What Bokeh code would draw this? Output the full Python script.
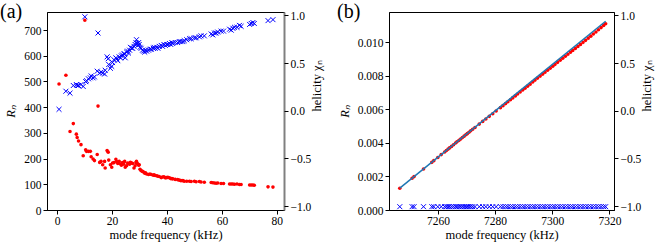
import math
from bokeh.plotting import figure
from bokeh.models import (Range1d, LinearAxis, FixedTicker, CustomJSTickFormatter,
                          ColumnDataSource, Div)
from bokeh.layouts import row
from bokeh.embed import file_html
from bokeh.resources import INLINE

# ---------------- panel (a) data ----------------
freq_a = [0.5, 3.0, 4.5, 5.7, 6.8, 7.1, 7.6, 8.5, 9.3, 9.9, 10.2, 10.5, 11.2, 11.9, 12.2,
          12.9, 13.4, 14.4, 14.7, 15.3, 15.8, 16.4, 17.1, 17.3, 18.0, 18.4, 18.6, 19.2,
          19.7, 20.0, 20.5, 21.2, 21.5, 21.9, 22.4, 22.9, 23.2, 23.6, 24.1, 24.4, 24.6,
          25.1, 25.5, 25.8, 26.2, 26.5, 27.0, 27.3, 27.8, 28.2, 28.5, 28.7, 29.0, 29.2,
          29.5, 29.7, 30.0, 30.4, 30.9, 31.3, 31.7, 32.0, 32.4, 33.1, 33.6, 34.1, 34.8,
          35.1, 35.5, 36.1, 36.5, 37.0, 37.7, 38.2, 38.7, 39.2, 39.7, 40.1, 40.7, 41.2,
          41.6, 41.9, 42.8, 43.7, 44.3, 44.9, 45.6, 46.1, 47.0, 48.0, 48.6, 49.8, 50.4,
          51.6, 52.2, 53.4, 55.9, 56.5, 57.1, 57.7, 58.3, 59.5, 60.4, 62.6, 63.2, 63.8,
          64.4, 65.3, 66.2, 66.8, 69.9, 70.5, 71.1, 71.6, 76.6, 78.4]
R_a = [492, 526, 307, 338, 297, 284, 270, 256, 213, 740, 236, 230, 230, 230, 209,
       200, 194, 218, 406, 187, 191, 178, 191, 165, 233, 227, 196, 178,
       168, 185, 186, 199, 190, 183, 191, 181, 176, 186, 180, 191, 168,
       174, 185, 183, 180, 187, 185, 183, 165, 174, 186, 191, 183, 181,
       176, 178, 160, 155, 152, 150, 145, 147, 142, 140, 142, 140, 137,
       139, 136, 135, 133, 132, 128, 130, 131, 127, 128, 129, 127, 124,
       124, 123, 121, 120, 118, 116, 116, 114, 114, 114, 113, 114, 112,
       113, 111, 110, 109, 108, 107, 106, 107, 105, 105, 103, 103, 103,
       102, 103, 101, 101, 99, 99, 99, 98, 92, 91]
chi_a = [0.02, 0.21, 0.19, 0.27, 0.28, 0.27, 0.27, 0.28, 0.26, 0.99, 0.31, 0.32, 0.34, 0.35, 0.37,
         0.35, 0.36, 0.42, 0.82, 0.40, 0.41, 0.40, 0.39, 0.43, 0.57, 0.55, 0.49, 0.45,
         0.47, 0.51, 0.54, 0.56, 0.55, 0.53, 0.57, 0.56, 0.58, 0.59, 0.60, 0.60, 0.56,
         0.62, 0.63, 0.61, 0.64, 0.67, 0.66, 0.66, 0.68, 0.70, 0.72, 0.75, 0.71, 0.69,
         0.72, 0.70, 0.67, 0.66, 0.64, 0.63, 0.62, 0.64, 0.63, 0.64, 0.65, 0.65, 0.66,
         0.67, 0.66, 0.67, 0.66, 0.68, 0.69, 0.68, 0.70, 0.69, 0.70, 0.70, 0.71, 0.70,
         0.72, 0.71, 0.72, 0.72, 0.73, 0.73, 0.73, 0.74, 0.75, 0.76, 0.76, 0.77, 0.77,
         0.78, 0.79, 0.79, 0.81, 0.80, 0.82, 0.82, 0.83, 0.84, 0.84, 0.86, 0.85, 0.87,
         0.88, 0.88, 0.90, 0.89, 0.91, 0.92, 0.93, 0.92, 0.95, 0.96]

# ---------------- panel (b) data ----------------
freq_b = [7246.5, 7250.8, 7251.5, 7254.8, 7257.7, 7258.4, 7259.8, 7261.0, 7262.2, 7262.8,
          7263.4, 7263.9, 7264.6, 7265.3, 7266.0, 7266.5, 7267.2, 7267.8, 7268.4, 7269.0,
          7269.6, 7270.1, 7270.7, 7271.3, 7272.0, 7272.8, 7274.3, 7275.5, 7276.6, 7277.8,
          7279.0, 7280.2, 7281.7, 7282.6, 7283.5, 7284.3, 7285.2, 7286.0, 7286.9, 7287.7,
          7288.6, 7289.5, 7290.3, 7291.2, 7292.1, 7293.0, 7293.8, 7294.7, 7295.6, 7296.5,
          7297.3, 7298.2, 7299.1, 7300.0, 7300.8, 7301.7, 7302.6, 7303.5, 7304.4, 7305.3,
          7306.2, 7307.0, 7307.9, 7308.8, 7309.7, 7310.6, 7311.5, 7312.4, 7313.3, 7314.2,
          7315.1, 7316.0, 7316.9, 7317.8, 7318.5]
R_b = [0.00133, 0.00192, 0.00202, 0.00247, 0.00287, 0.00297, 0.00316, 0.00333, 0.00349, 0.00358,
       0.00366, 0.00373, 0.00382, 0.00392, 0.00402, 0.00409, 0.00418, 0.00426, 0.00435, 0.00443,
       0.00451, 0.00458, 0.00466, 0.00475, 0.00484, 0.00495, 0.00515, 0.00531, 0.00545, 0.00561,
       0.00577, 0.00593, 0.00613, 0.00625, 0.00637, 0.00648, 0.00660, 0.00671, 0.00683, 0.00694,
       0.00706, 0.00718, 0.00729, 0.00741, 0.00753, 0.00766, 0.00777, 0.00789, 0.00801, 0.00813,
       0.00824, 0.00836, 0.00848, 0.00860, 0.00871, 0.00883, 0.00895, 0.00907, 0.00919, 0.00931,
       0.00943, 0.00954, 0.00966, 0.00978, 0.00990, 0.01002, 0.01014, 0.01027, 0.01039, 0.01052,
       0.01064, 0.01077, 0.01090, 0.01103, 0.01113]
chi_b = [-1.0] * len(freq_b)
fit_f = [7246.5, 7318.5]
fit_R = [0.00133, 0.01128]

# ---------------- ticks ----------------
xticks_a = [0, 20, 40, 60, 80]
yticks_a = [0, 100, 200, 300, 400, 500, 600, 700]
xticks_b = [7260, 7280, 7300, 7320]
yticks_b = [0.0, 0.002, 0.004, 0.006, 0.008, 0.010]
chi_ticks = [-1.0, -0.5, 0.0, 0.5, 1.0]

SERIF = "Liberation Serif"
TICK_FS = "11.5px"
LABEL_FS = "12.5px"
RED = "#ff0000"
BLUE = "#0000ff"
H = 249


def fmt(decimals):
    return CustomJSTickFormatter(
        code="return tick.toFixed(%d).replace('-', '\\u2212');" % decimals)


def style_axis(ax, ticks, decimals, label):
    ax.ticker = FixedTicker(ticks=ticks)
    ax.formatter = fmt(decimals)
    ax.minor_tick_line_color = None
    ax.major_tick_in = 0
    ax.major_tick_out = 4
    ax.major_tick_line_color = "black"
    ax.major_tick_line_width = 1
    ax.axis_line_color = "black"
    ax.axis_line_width = 1
    ax.major_label_text_font = SERIF
    ax.major_label_text_font_size = TICK_FS
    ax.major_label_text_color = "black"
    ax.major_label_standoff = 2
    ax.axis_label = label
    ax.axis_label_text_font = SERIF
    ax.axis_label_text_font_size = LABEL_FS
    ax.axis_label_text_font_style = "normal"
    ax.axis_label_text_color = "black"
    ax.axis_label_standoff = 3


def make_fig(width, xr, yr, chir, left, right):
    p = figure(width=width, height=H, x_range=xr, y_range=yr,
               output_backend="svg", toolbar_location=None, title=None,
               min_border_left=left, min_border_right=right,
               min_border_top=12, min_border_bottom=39)
    p.xgrid.visible = False
    p.ygrid.visible = False
    p.outline_line_color = "black"
    p.outline_line_width = 1
    p.outline_line_alpha = 1
    p.background_fill_color = "white"
    p.border_fill_color = "white"
    p.extra_y_ranges = {"chi": chir}
    rax = LinearAxis(y_range_name="chi")
    p.add_layout(rax, "right")
    return p, rax


# ---------------- panel (a) ----------------
p1, rax1 = make_fig(334, Range1d(-3.7, 82.6), Range1d(0, 770), Range1d(-1.04, 1.035), 47, 50)
style_axis(p1.xaxis[0], xticks_a, 0, "mode frequency (kHz)")
p1.xaxis[0].axis_label_standoff = 0
style_axis(p1.yaxis[0], yticks_a, 0, "R\u2099")
p1.yaxis[0].axis_label_text_font_style = "italic"
style_axis(rax1, chi_ticks, 1, "helicity \u03c7\u2099")
rax1.axis_line_color = "#808080"
rax1.axis_line_width = 2
try:
    rax1.axis_label_orientation = math.pi / 2
except Exception:
    pass

src_a = ColumnDataSource(dict(f=freq_a, R=R_a, chi=chi_a))
p1.scatter("f", "R", source=src_a, marker="circle", size=3.6, fill_color=RED,
           line_color=None)
p1.scatter("f", "chi", source=src_a, marker="x", size=7, line_color=BLUE,
           line_width=1, y_range_name="chi")

# ---------------- panel (b) ----------------
p2, rax2 = make_fig(331, Range1d(7242.9, 7321.6), Range1d(0, 0.0118), Range1d(-1.04, 1.035), 53, 51)
style_axis(p2.xaxis[0], xticks_b, 0, "mode frequency (kHz)")
p2.xaxis[0].axis_label_standoff = 0
style_axis(p2.yaxis[0], yticks_b, 3, "R\u2099")
p2.yaxis[0].axis_label_text_font_style = "italic"
style_axis(rax2, chi_ticks, 1, "helicity \u03c7\u2099")
try:
    rax2.axis_label_orientation = math.pi / 2
except Exception:
    pass

src_b = ColumnDataSource(dict(f=freq_b, R=R_b, chi=chi_b))
p2.scatter("f", "R", source=src_b, marker="circle", size=3.6, fill_color=RED,
           line_color=None)
p2.line(fit_f, fit_R, line_color="#1f77b4", line_width=1.5)
p2.scatter("f", "chi", source=src_b, marker="x", size=7, line_color=BLUE,
           line_width=1, y_range_name="chi")


# ---------------- panel tags (overlaid text) ----------------
def tag(text, left):
    return Div(text=text, styles={"position": "absolute", "left": "%dpx" % left,
                                  "top": "0px", "font-family": SERIF,
                                  "font-size": "20px", "line-height": "22px",
                                  "color": "black", "z-index": "10",
                                  "margin": "0", "padding": "0"})


layout = row(p1, p2, tag("(a)", 0), tag("(b)", 337))
open("out.html", "w").write(file_html(layout, INLINE))
